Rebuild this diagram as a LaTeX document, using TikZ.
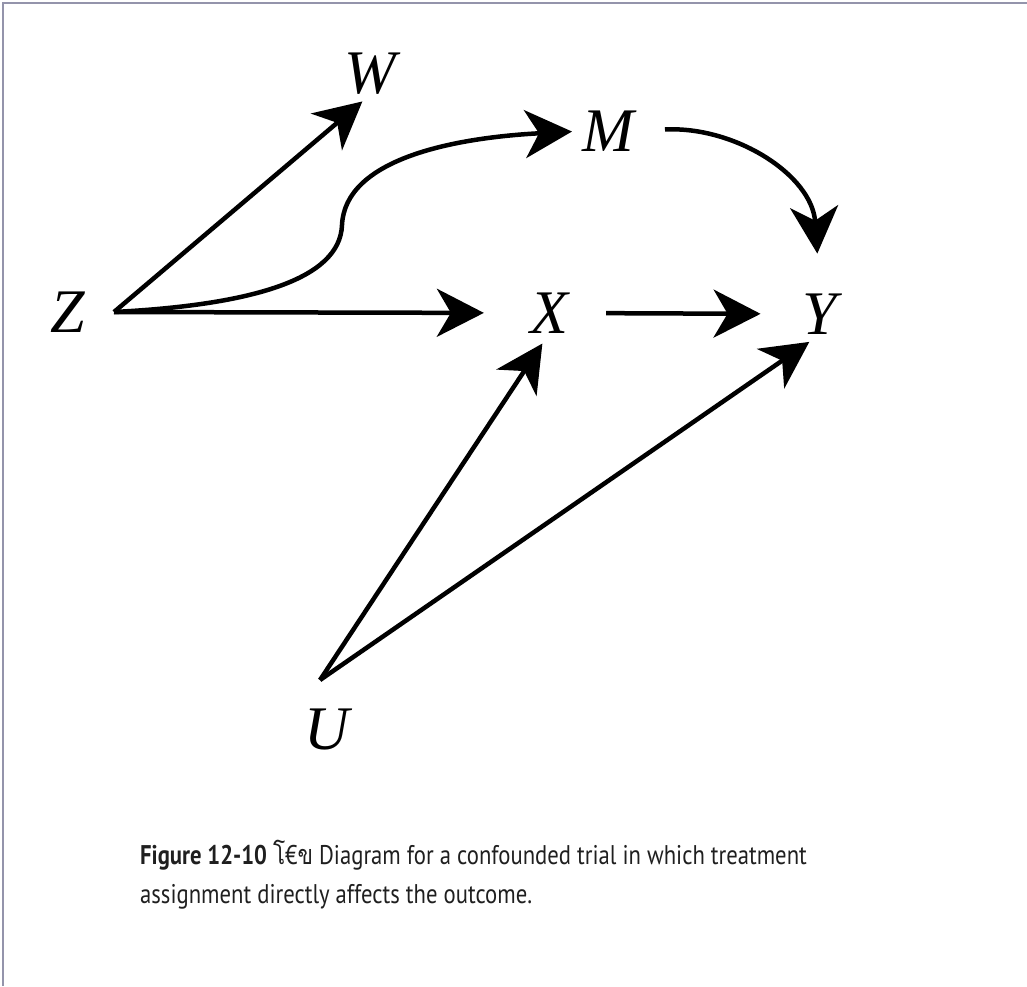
\documentclass[tikz,border=0pt]{standalone}
\usepackage{fontspec}
\setmainfont{PT Sans}[FakeStretch=0.84]
\newfontfamily\varfont{Liberation Serif}
\newfontfamily\thaifont[Script=Thai,FakeStretch=0.84]{Loma}
\usetikzlibrary{arrows.meta}

\begin{document}
\begin{tikzpicture}[x=1pt, y=-1pt,
    var/.style={inner sep=0pt, font=\varfont\itshape\fontsize{62}{62}\selectfont},
    effect/.style={line width=4.5pt, -{Stealth[length=47pt, width=48pt, inset=14pt]}},
    caption/.style={anchor=base west, inner sep=0pt, text=black!88, font=\fontsize{27}{39}\selectfont}]
        \useasboundingbox (0,0) rectangle (1027,986);
        % Frame
        \draw[color=black!35!blue!20!gray!70, line width=1.5pt] (3,986) -- (3,3) -- (1027,3);
        % Nodes
        \node[var] (w) at (370,74) {W};
        \node[var] (m) at (608,131) {M};
        \node[var] (z) at (68,312) {Z};
        \node[var] (x) at (549,313) {X};
        \node[var] (y) at (820,314) {Y};
        \node[var] (u) at (327,729) {U};
        \coordinate (z_hub) at (114,312);
        \coordinate (u_hub) at (320,680);
        % Edges
        \draw[effect, shorten >=10pt] (z_hub) -- (w.south);
        \draw[effect, shorten >=10pt] (z_hub) .. controls (250,305) and (340,280) .. (342,225)
              .. controls (345,160) and (450,138) .. (m.west);
        \draw[effect, shorten >=46pt] (z_hub) -- (x.west);
        \draw[effect, shorten <=38pt, shorten >=42pt] (x.east) -- (y.west);
        \draw[effect, shorten <=31pt, shorten >=40pt] (m.east) .. controls (735,126) and (812,175) .. (y.north);
        \draw[effect, shorten >=12pt] (u_hub) -- (x.south);
        \draw[effect, shorten >=13pt] (u_hub) -- (y.south);
        % Caption
        \node[caption] (cap1) at (140,864) {\textbf{Figure 12-10} {\thaifont โ}€{\thaifont ข} Diagram for a confounded trial in which treatment};
        \node[caption] (cap2) at (140,903) {assignment directly affects the outcome.};
      \end{tikzpicture}
\end{document}
